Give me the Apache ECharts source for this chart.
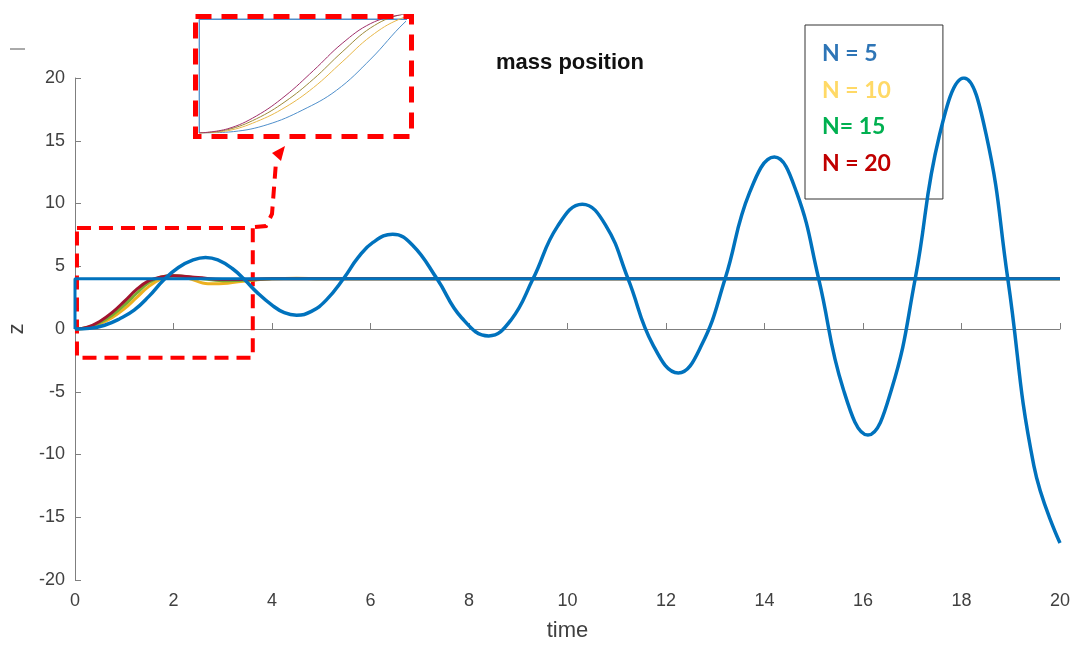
<!DOCTYPE html>
<html>
<head>
<meta charset="utf-8">
<script src="https://cdn.jsdelivr.net/npm/echarts@6/dist/echarts.min.js"></script>
<style>html,body{margin:0;padding:0;background:#fff}#c{width:1078px;height:645px}</style>
</head>
<body>
<div id="c"></div>
<script>
// ---- data ----
const seriesNames = ['N = 5', 'N = 10', 'N= 15', 'N = 20'];
const xTicks = [0, 2, 4, 6, 8, 10, 12, 14, 16, 18, 20];
const yTicks = [-20, -15, -10, -5, 0, 5, 10, 15, 20];

const refTime = [0, 0, 20];
const refZ    = [0, 4, 4];

const n5Time = [0,0.3,0.6,0.9,1.2,1.5,1.8,2.1,2.4,2.65,2.9,3.2,3.45,3.7,4.0,4.25,4.5,4.8,5.1,5.45,5.75,6.05,6.45,6.85,7.35,7.85,8.4,8.85,9.3,9.8,10.3,10.77,11.23,11.74,12.25,12.72,13.2,13.7,14.2,14.65,15.1,15.6,16.1,16.58,17.06,17.55,18.05,18.5,18.94,19.47,20];
const n5Z    = [0,0.05,0.3,0.8,1.5,2.6,3.9,4.9,5.5,5.7,5.5,4.8,3.9,2.9,1.9,1.3,1.1,1.4,2.3,4.0,5.7,6.9,7.55,6.7,4.0,0.9,-0.55,0.7,4.0,8.2,9.95,8.3,4.0,-1.3,-3.5,-1.3,4.0,10.9,13.7,10.9,4.0,-4.8,-8.45,-4.8,4.0,15.4,20.0,15.5,4.0,-10.9,-17.05];

const n10Time = [0,0.25,0.5,0.75,1.0,1.25,1.5,1.75,2.0,2.3,2.7,3.1,3.5,4.0,4.5,5,20];
const n10Z    = [0,0.08,0.4,0.9,1.6,2.5,3.4,4.0,4.25,4.05,3.6,3.65,3.85,4.0,4.05,4.0,4.0];

const n15Time = [0,0.25,0.5,0.75,1.0,1.25,1.5,1.75,2.0,2.5,3.0,3.5,4.0,20];
const n15Z    = [0,0.12,0.5,1.1,1.9,2.85,3.7,4.15,4.25,4.05,3.85,3.9,4.0,4.0];

const n20Time = [0,0.25,0.5,0.75,1.0,1.25,1.5,1.75,2.0,2.5,3.0,3.5,4.0,20];
const n20Z    = [0,0.15,0.6,1.3,2.2,3.15,3.85,4.15,4.25,4.1,3.95,3.95,4.0,4.0];

// zoom box (data coords) and inset ranges
const boxX = [0.04, 3.61];
const boxY = [-2.3, 8.05];
const insetX = [-0.02, 1.8];
const insetY = [0, 4.15];

const pair = (t, z) => t.map((v, i) => [v, z[i]]);

const lineCol = ['#0072BD', '#EDB120', '#77AC30', '#A2142F'];
const legendCol = ['#2E75B6', '#FFD966', '#00B050', '#C00000'];
const insetCol = ['#4F8FCB', '#E8B84A', '#9C8A3A', '#A0306A'];

const allData = [pair(n5Time, n5Z), pair(n10Time, n10Z), pair(n15Time, n15Z), pair(n20Time, n20Z)];

const axisGray = '#7f7f7f';
const labelCol = '#404040';
const font = 'Liberation Sans, Arial, sans-serif';

const series = [];
[1, 2, 3].forEach(i => series.push({
  name: seriesNames[i], type: 'line', data: allData[i], smooth: 0.4, showSymbol: false,
  lineStyle: { color: lineCol[i], width: 3 }, itemStyle: { color: lineCol[i] }, z: 2
}));
series.push({
  name: 'reference', type: 'line', data: pair(refTime, refZ), showSymbol: false,
  lineStyle: { color: lineCol[0], width: 3 }, z: 3,
  markArea: {
    silent: true,
    itemStyle: { color: 'rgba(0,0,0,0)', borderColor: '#FF0000', borderWidth: 4, borderType: [14, 8] },
    data: [[{ xAxis: boxX[0], yAxis: boxY[1] }, { xAxis: boxX[1], yAxis: boxY[0] }]]
  }
});
series.push({
  name: seriesNames[0], type: 'line', data: allData[0], smooth: 0.45, showSymbol: false,
  lineStyle: { color: lineCol[0], width: 3.5 }, itemStyle: { color: legendCol[0] }, z: 4
});
// inset
series.push({
  name: 'inset ref', type: 'line', xAxisIndex: 1, yAxisIndex: 1, data: pair(refTime, refZ),
  showSymbol: false, lineStyle: { color: insetCol[0], width: 1.3 }, silent: true, clip: true, z: 5
});
[0, 1, 2, 3].forEach(i => series.push({
  name: 'inset ' + seriesNames[i], type: 'line', xAxisIndex: 1, yAxisIndex: 1, data: allData[i],
  smooth: 0.4, showSymbol: false, lineStyle: { color: insetCol[i], width: 1 }, silent: true, z: 5
}));

const option = {
  animation: false,
  backgroundColor: '#ffffff',
  title: {
    text: 'mass position', left: 491, top: 47,
    textStyle: { fontFamily: font, fontWeight: 'bold', fontSize: 22, color: '#111' }
  },
  legend: {
    orient: 'vertical', left: 805, top: 25,
    padding: [17, 52, 24, 12], itemGap: 13, itemWidth: 0, itemHeight: 24, icon: 'none',
    borderColor: '#333', borderWidth: 1, backgroundColor: '#fff',
    selectedMode: false,
    textStyle: { fontFamily: 'Lato, sans-serif', fontWeight: 'bold', fontSize: 23 },
    data: seriesNames.map((n, i) => ({ name: n, textStyle: { color: legendCol[i] } }))
  },
  grid: [
    { left: 75, right: 18, top: 78, bottom: 65, outerBoundsMode: 'none', containLabel: false },
    { left: 197, top: 15, width: 208, height: 118, outerBoundsMode: 'none', containLabel: false }
  ],
  xAxis: [{
    type: 'value', min: xTicks[0], max: xTicks[xTicks.length - 1], interval: 2,
    name: 'time', nameLocation: 'middle', nameGap: 40,
    nameTextStyle: { fontFamily: font, fontSize: 22, color: labelCol },
    axisLine: { lineStyle: { color: axisGray, width: 1 } },
    axisTick: { inside: true, length: 6, lineStyle: { color: axisGray } },
    axisLabel: { fontFamily: font, fontSize: 18, color: labelCol, margin: 12 },
    splitLine: { show: false }
  }, {
    type: 'value', gridIndex: 1, min: insetX[0], max: insetX[1], show: false
  }],
  yAxis: [{
    type: 'value', min: yTicks[0], max: yTicks[yTicks.length - 1], interval: 5,
    name: 'z', nameLocation: 'middle', nameGap: 46,
    nameTextStyle: { fontFamily: font, fontSize: 22, color: labelCol },
    axisLine: { show: true, lineStyle: { color: axisGray, width: 1 } },
    axisTick: { show: true, inside: true, length: 6, lineStyle: { color: axisGray } },
    axisLabel: { fontFamily: font, fontSize: 18, color: labelCol, margin: 10 },
    splitLine: { show: false }
  }, {
    type: 'value', gridIndex: 1, min: insetY[0], max: insetY[1], show: false
  }],
  graphic: [
    { type: 'rect', left: 193, top: 14, shape: { width: 216, height: 120 },
      style: { fill: 'none', stroke: '#FF0000', lineWidth: 5, lineDash: [16, 10] }, z: 10 },
    { type: 'polyline', shape: { points: [[255, 227], [266, 226], [272, 214], [276, 162]] },
      style: { fill: 'none', stroke: '#FF0000', lineWidth: 4, lineDash: [12, 8] }, z: 10 },
    { type: 'polygon', shape: { points: [[285, 146], [272, 153], [281, 161]] },
      style: { fill: '#FF0000' }, z: 10 },
    { type: 'line', shape: { x1: 10, y1: 49, x2: 25, y2: 49 },
      style: { stroke: '#555', lineWidth: 1 } }
  ],
  series: series
};

const chart = echarts.init(document.getElementById('c'), null, { renderer: 'canvas' });
chart.setOption(option);
</script>
</body>
</html>
